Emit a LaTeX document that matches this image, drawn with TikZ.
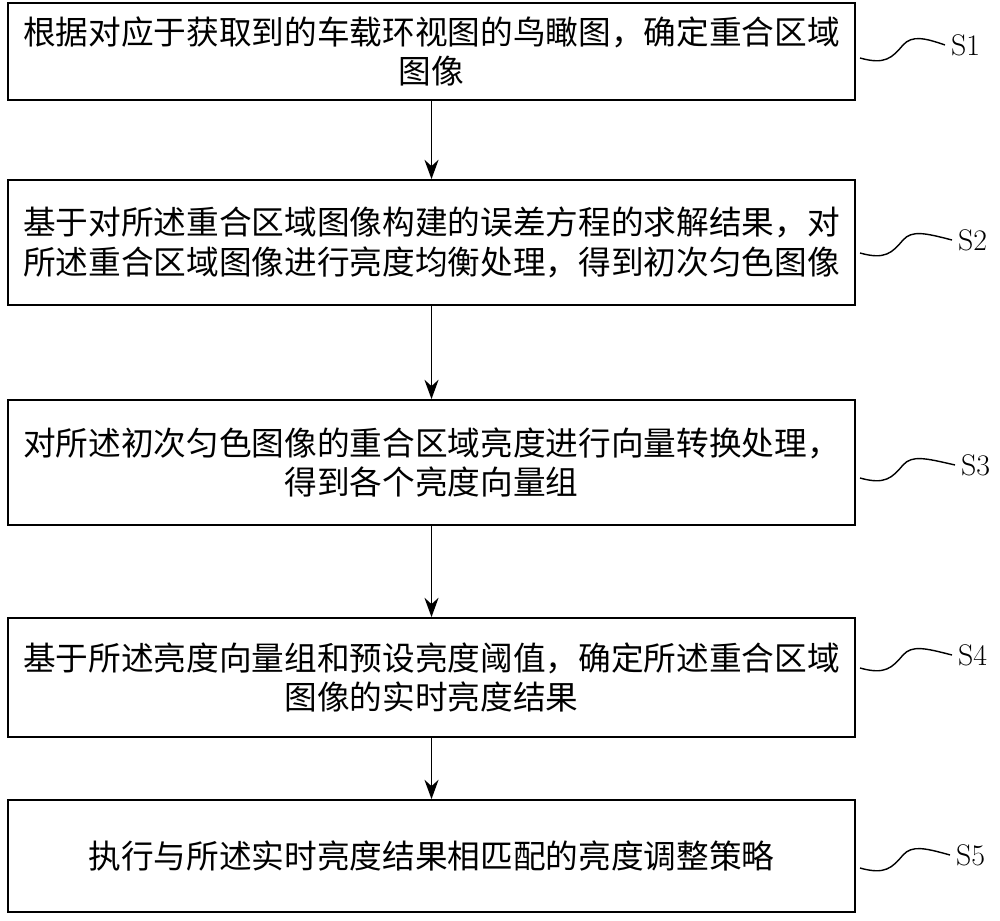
\documentclass[tikz,border=0pt]{standalone}
\usepackage{fontspec}
\newfontfamily\cjk{Noto Sans CJK SC}
\usetikzlibrary{arrows.meta}
\tikzset{
  stepbox/.style={draw, line width=1pt, minimum width=16.94cm, align=center, font=\cjk\fontsize{18.6pt}{22.7pt}\selectfont, inner sep=0pt},
  steplabel/.style={font=\fontsize{17pt}{20pt}\selectfont, anchor=west},
  wave/.style={line width=0.8pt}
}
\begin{document}
\begin{tikzpicture}[x=0.02cm, y=-0.02cm]
    \useasboundingbox (0,0) rectangle (1000,920);

    % Step boxes
    \node[stepbox, minimum height=1.94cm] (s1) at (431.5,51.5) {根据对应于获取到的车载环视图的鸟瞰图，确定重合区域\\图像};
    \node[stepbox, minimum height=2.5cm] (s2) at (431.5,242.5) {基于对所述重合区域图像构建的误差方程的求解结果，对\\所述重合区域图像进行亮度均衡处理，得到初次匀色图像};
    \node[stepbox, minimum height=2.5cm] (s3) at (431.5,462.5) {对所述初次匀色图像的重合区域亮度进行向量转换处理，\\得到各个亮度向量组};
    \node[stepbox, minimum height=2.38cm] (s4) at (431.5,677.5) {基于所述亮度向量组和预设亮度阈值，确定所述重合区域\\图像的实时亮度结果};
    \node[stepbox, minimum height=2.24cm] (s5) at (431.5,856) {执行与所述实时亮度结果相匹配的亮度调整策略};

    % Arrows
    \foreach \a/\b in {s1/s2, s2/s3, s3/s4, s4/s5}
        \draw[line width=1pt, -{Stealth[length=11pt, width=8pt]}] (\a) -- (\b);

    % Step labels with wavy leaders
    \foreach \n/\y/\lx in {1/45/945, 2/240/952, 3/465/955, 4/655/952, 5/855/950} {
        \node[steplabel] (l\n) at (\lx,\y) {S\n};
        \coordinate (w\n) at (860,\y+13);
        \draw[wave] (w\n) .. controls (885,\y+20) and (892,\y+13) .. (903,\y)
            .. controls (912,\y-10) and (925,\y-7) .. (l\n.west);
    }
\end{tikzpicture}
\end{document}
